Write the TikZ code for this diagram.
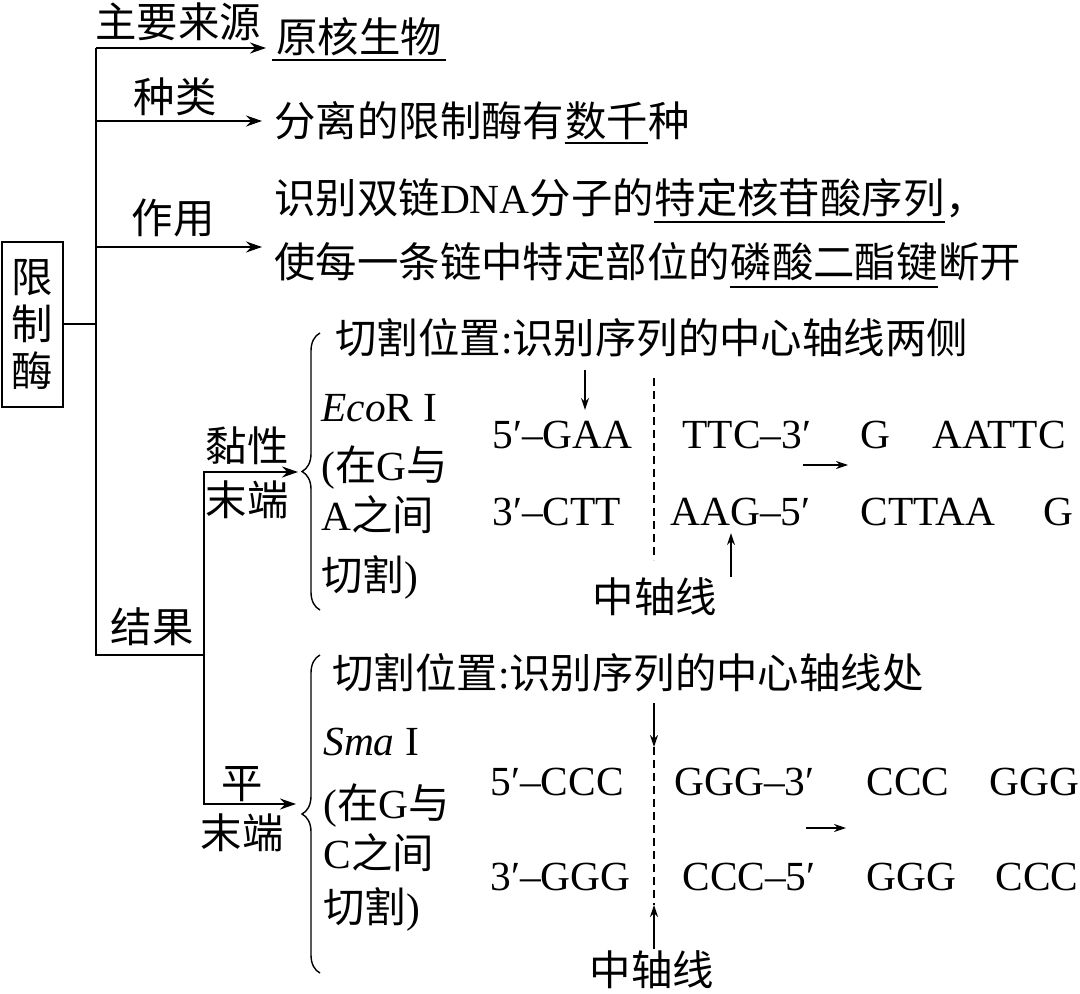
\documentclass[tikz,border=0pt]{standalone}
\usepackage{fontspec}
\setmainfont{Noto Sans CJK SC}
\newfontfamily\lat{Liberation Serif}
\newcommand\en[1]{{\lat #1}}
\usetikzlibrary{arrows.meta, positioning, decorations.pathreplacing}

\begin{document}
\begin{tikzpicture}[
  x=0.5pt, y=-0.5pt,
  font=\fontsize{20.7}{23.5}\selectfont, >={Stealth[length=8pt, width=5.5pt]},
  txt/.style={inner sep=0pt, anchor=west, text height=18.2pt, text depth=2.5pt},
  lbl/.style={inner sep=0pt, text height=18.2pt, text depth=2.5pt},
  seq/.style={txt, font=\fontsize{20.7}{23.5}\selectfont\lat},
  ln/.style={line width=1pt},
  ar/.style={->, line width=1pt},
  sar/.style={-{Stealth[length=6pt, width=4pt]}, line width=0.7pt},
  ul/.style={line width=1pt},
  br/.style={decorate, decoration={brace, amplitude=9pt}, line width=0.7pt},
  axis/.style={dash pattern=on 4pt off 2.5pt, line width=0.7pt},
  node distance=0pt,
]
\useasboundingbox (0,0) rectangle (1080,994);

\node[draw, line width=1pt, minimum width=30.5pt, minimum height=82.5pt,
      align=center, inner sep=0pt] (enz) at (32.5,324.5) {限\\制\\酶};

\coordinate (b1) at (96,48);
\coordinate (b2) at (96,121);
\coordinate (b3) at (96,247);
\coordinate (b4) at (96,655);
\coordinate (r0) at (204,655);
\draw[ln] (enz.east) -- (enz.east -| b1);
\draw[ln] (b1) -- (b4) -- (r0);

\node[lbl] (srcl) at (178,22) {主要来源};
\node[lbl] (kindl) at (175,97) {种类};
\node[lbl] (actl) at (173,218) {作用};
\node[lbl] (resl) at (152,627) {结果};

\node[txt] (src) at (276,37) {原核生物};
\draw[ul] ([shift={(-4,2)}]src.south west) -- ([shift={(4,2)}]src.south east);
\draw[ar] (b1) -- ([xshift=-5pt]b1 -| src.west);

\node[txt] (kind) at (274,121) {分离的限制酶有};
\node[txt, right=of kind] (kindu) {数千};
\node[txt, right=of kindu] (kindr) {种};
\draw[ul] ([shift={(0,1)}]kindu.south west) -- ([shift={(0,1)}]kindu.south east);
\draw[ar] (b2) -- ([xshift=-6pt]b2 -| kind.west);

\node[txt] (act1) at (274,198) {识别双链\en{DNA}分子的};
\node[txt, right=of act1] (act1u) {特定核苷酸序列};
\node[txt, right=of act1u] (act1r) {，};
\draw[ul] ([shift={(0,3)}]act1u.south west) -- ([shift={(0,3)}]act1u.south east);
\node[txt] (act2) at (274,262) {使每一条链中特定部位的};
\node[txt, right=of act2] (act2u) {磷酸二酯键};
\node[txt, right=of act2u] (act2r) {断开};
\draw[ul] ([shift={(0,4)}]act2u.south west) -- ([shift={(0,4)}]act2u.south east);
\draw[ar] (b3) -- ([xshift=-6pt]b3 -| act2.west);

\coordinate (stk) at (298,472);
\coordinate (blt) at (296,804);
\draw[ar] (r0) |- (stk);
\draw[ar] (r0) |- (blt);
\node[lbl] (stkl1) at (247,446) {黏性};
\node[lbl] (stkl2) at (247,500) {末端};
\node[lbl] (bltl1) at (242,783) {平};
\node[lbl] (bltl2) at (242,833) {末端};

\draw[br] (320,610) -- (320,333);
\draw[br] (320,973) -- (320,655);

\node[txt] (ecop) at (335,338) {切割位置\en{:}识别序列的中心轴线两侧};
\node[txt] (eco) at (321,406) {\en{\textit{Eco}R I}};
\node[txt] (eco1) at (321,465) {\en{(}在\en{G}与};
\node[txt] (eco2) at (321,515) {\en{A}之间};
\node[txt] (eco3) at (321,575) {切割\en{)}};

\node[seq] (e1a) at (492,433) {5′–GAA};
\node[seq] (e1b) at (682,433) {TTC–3′};
\node[seq] (e1c) at (860,433) {G};
\node[seq] (e1d) at (932,433) {AATTC};
\node[seq] (e2a) at (492,510) {3′–CTT};
\node[seq] (e2b) at (670,510) {AAG–5′};
\node[seq] (e2c) at (860,510) {CTTAA};
\node[seq] (e2d) at (1043,510) {G};
\node[lbl] (eaxl) at (655,597) {中轴线};

\coordinate (ecut) at (585,370);
\draw[sar] (ecut) -- ([yshift=1pt]ecut |- e1a.north);
\coordinate (eax1) at (654,378);
\coordinate (eax2) at (654,560);
\draw[axis] (eax1) -- (eax2);
\coordinate (eup) at (731,577);
\draw[sar] (eup) -- ([yshift=-1pt]eup |- e2b.south);
\coordinate (emid1) at (803,465);
\coordinate (emid2) at (848,465);
\draw[sar] (emid1) -- (emid2);

\node[txt] (smap) at (332,673) {切割位置\en{:}识别序列的中心轴线处};
\node[txt] (sma) at (323,740) {\en{\textit{Sma} I}};
\node[txt] (sma1) at (323,803) {\en{(}在\en{G}与};
\node[txt] (sma2) at (323,853) {\en{C}之间};
\node[txt] (sma3) at (323,907) {切割\en{)}};

\node[seq] (s1a) at (490,780) {5′–CCC};
\node[seq] (s1b) at (674,780) {GGG–3′};
\node[seq] (s1c) at (866,780) {CCC};
\node[seq] (s1d) at (989,780) {GGG};
\node[seq] (s2a) at (490,875) {3′–GGG};
\node[seq] (s2b) at (682,875) {CCC–5′};
\node[seq] (s2c) at (866,875) {GGG};
\node[seq] (s2d) at (995,875) {CCC};
\node[lbl] (saxl) at (652,970) {中轴线};

\coordinate (scut) at (654,703);
\coordinate (sax1) at (654,747);
\coordinate (sax2) at (654,905);
\draw[sar] (scut) -- (sax1);
\draw[axis] (sax1) -- (sax2);
\draw[sar] (saxl.north -| sax2) -- (sax2);
\coordinate (smid1) at (806,828);
\coordinate (smid2) at (846,828);
\draw[sar] (smid1) -- (smid2);
\end{tikzpicture}
\end{document}
